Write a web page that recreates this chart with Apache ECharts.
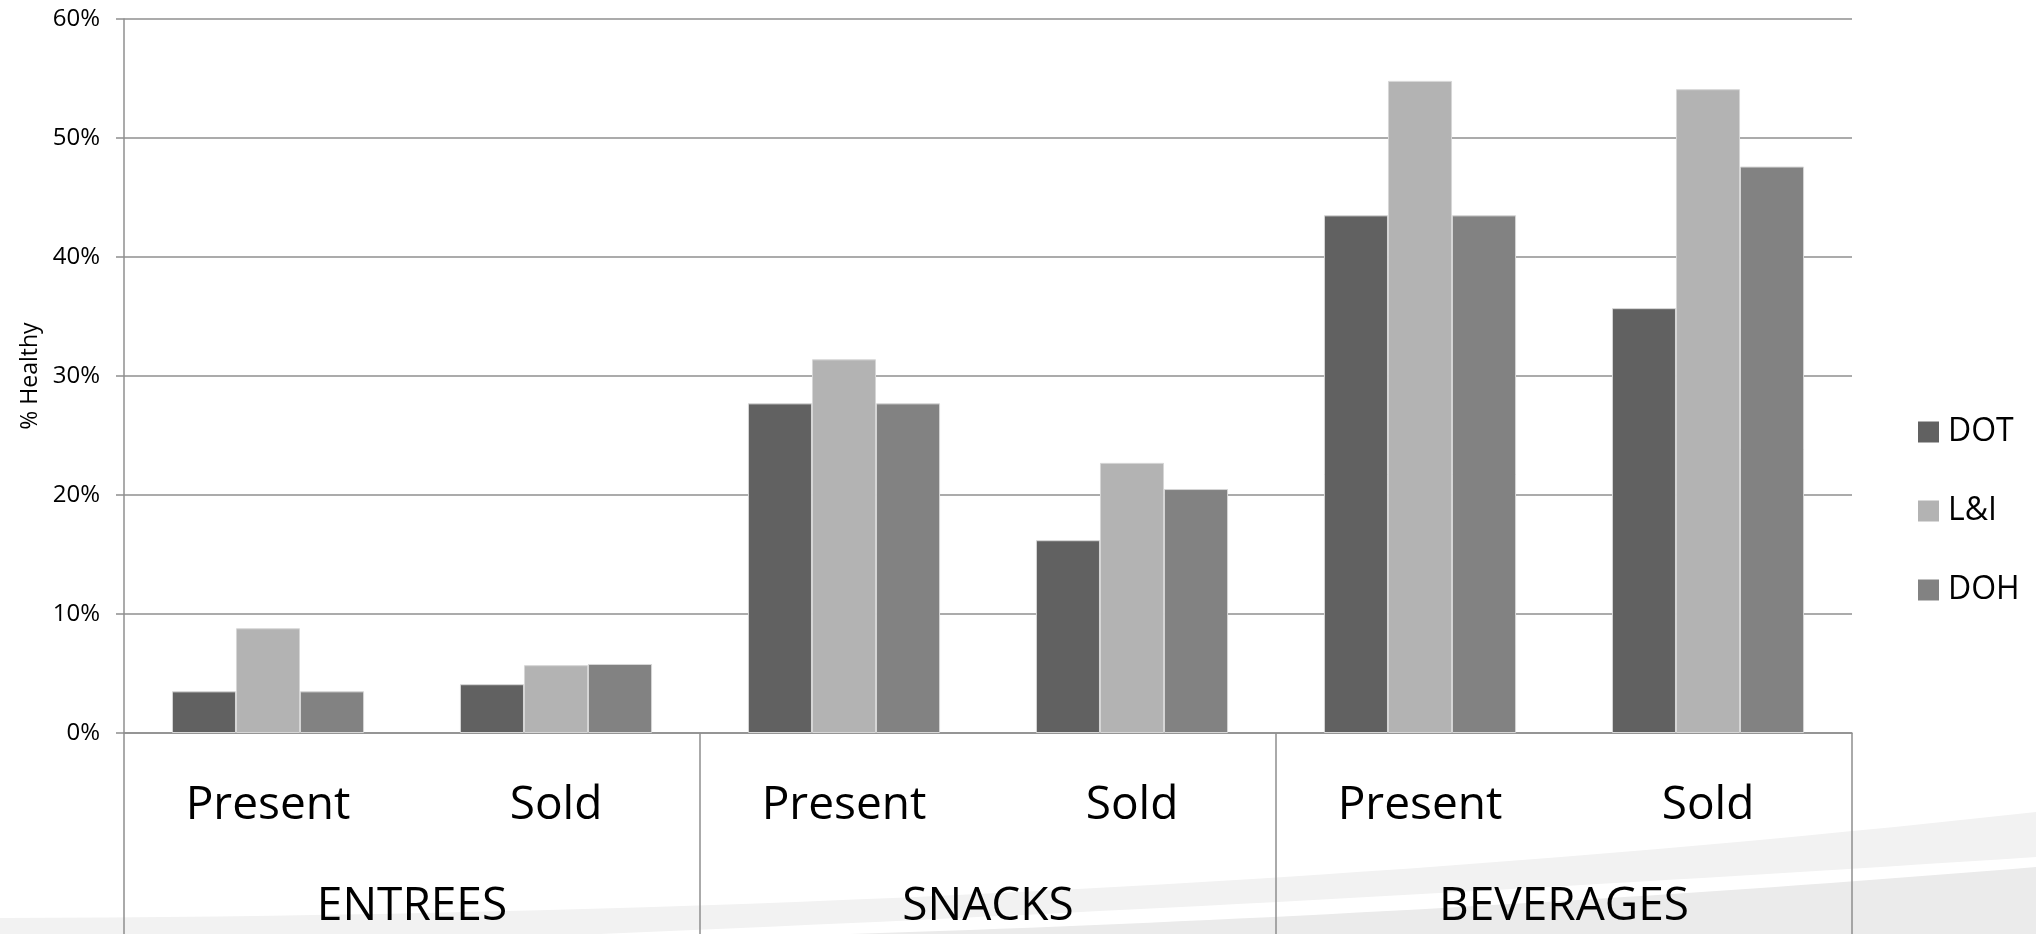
<!DOCTYPE html>
<html>
<head>
<meta charset="utf-8">
<title>% Healthy by location</title>
<script src="https://cdn.jsdelivr.net/npm/echarts@6/dist/echarts.min.js"></script>
<style>
  html, body { margin: 0; padding: 0; background: #ffffff; }
  #chart { width: 2036px; height: 934px; }
</style>
</head>
<body>
<div id="chart"></div>
<script>
// Sub-categories (inner axis row) and groups (outer axis row)
const subCategories = ['Present', 'Sold', 'Present', 'Sold', 'Present', 'Sold'];
const groups = ['ENTREES', 'SNACKS', 'BEVERAGES'];

// Share of healthy items, in percent
const dotValues = [3.5, 4.1, 27.7, 16.2, 43.5, 35.7];
const liValues  = [8.8, 5.7, 31.4, 22.7, 54.8, 54.1];
const dohValues = [3.5, 5.8, 27.7, 20.5, 43.5, 47.6];

const seriesNames = ['DOT', 'L&I', 'DOH'];
const seriesColors = ['#616161', '#b3b3b3', '#828282'];

const yTicks = { min: 0, max: 60, interval: 10 };

const FONT = '"Open Sans", "Noto Sans", sans-serif';
const AXIS_GREY = '#8f8f8f';

// Closed band under a quadratic curve, used for the background swoosh
function swoosh(p0, c, p1, bottom) {
  const pts = [];
  const steps = 40;
  for (let k = 0; k <= steps; k++) {
    const t = k / steps, u = 1 - t;
    pts.push([
      u * u * p0[0] + 2 * u * t * c[0] + t * t * p1[0],
      u * u * p0[1] + 2 * u * t * c[1] + t * t * p1[1]
    ]);
  }
  pts.push([p1[0], bottom], [p0[0], bottom]);
  return pts;
}

const chart = echarts.init(document.getElementById('chart'), null, { renderer: 'canvas' });

const seriesData = [dotValues, liValues, dohValues];

const option = {
  backgroundColor: '#ffffff',
  animation: false,
  textStyle: { fontFamily: FONT, color: '#000' },
  graphic: [
    {
      type: 'polygon', z: -100, silent: true,
      shape: { points: swoosh([0, 918], [1100, 915], [2036, 812], 934) },
      style: { fill: '#f2f2f2' }
    },
    {
      type: 'polygon', z: -99, silent: true,
      shape: { points: swoosh([600, 934], [1300, 905], [2036, 857], 934) },
      style: { fill: '#ffffff' }
    },
    {
      type: 'polygon', z: -98, silent: true,
      shape: { points: swoosh([850, 934], [1450, 915], [2036, 867], 934) },
      style: { fill: '#ebebeb' }
    }
  ],
  grid: { left: 124, right: 184, top: 19, bottom: 201, containLabel: false },
  legend: {
    orient: 'vertical',
    left: 1913,
    top: 411,
    itemWidth: 21,
    itemHeight: 21,
    itemGap: 47,
    icon: 'rect',
    itemStyle: { borderWidth: 0 },
    textStyle: { fontSize: 32, color: '#000', fontFamily: FONT, padding: [0, 0, 0, 4] },
    data: seriesNames
  },
  xAxis: [
    {
      type: 'category',
      position: 'bottom',
      data: subCategories,
      axisLine: { show: true, lineStyle: { color: AXIS_GREY, width: 1.5 } },
      axisTick: { show: false },
      axisLabel: { fontSize: 46, color: '#000', margin: 50, fontFamily: FONT, interval: 0 },
      splitLine: { show: false }
    },
    {
      type: 'category',
      position: 'bottom',
      data: groups,
      axisLine: { show: false },
      axisTick: { show: true, length: 205, interval: 0, lineStyle: { color: AXIS_GREY, width: 1.5 } },
      axisLabel: { fontSize: 46, color: '#000', margin: 151, fontFamily: FONT, interval: 0 },
      splitLine: { show: false }
    }
  ],
  yAxis: {
    type: 'value',
    min: yTicks.min,
    max: yTicks.max,
    interval: yTicks.interval,
    name: '% Healthy',
    nameLocation: 'middle',
    nameRotate: 90,
    nameGap: 80,
    nameTextStyle: { fontSize: 23, color: '#000', fontFamily: FONT },
    axisLine: { show: true, lineStyle: { color: AXIS_GREY, width: 1.5 } },
    axisTick: { show: true, length: 8, lineStyle: { color: AXIS_GREY, width: 1.5 } },
    axisLabel: { formatter: '{value}%', fontSize: 24, color: '#000', margin: 24, fontFamily: FONT },
    splitLine: { show: true, lineStyle: { color: AXIS_GREY, width: 1.5 } }
  },
  series: seriesNames.map((name, i) => ({
    name: name,
    type: 'bar',
    xAxisIndex: 0,
    data: seriesData[i],
    barGap: '0%',
    barCategoryGap: '33.3%',
    itemStyle: { color: seriesColors[i], borderColor: '#d6d6d6', borderWidth: 1 },
    emphasis: { disabled: true }
  }))
};

chart.setOption(option);
</script>
</body>
</html>
